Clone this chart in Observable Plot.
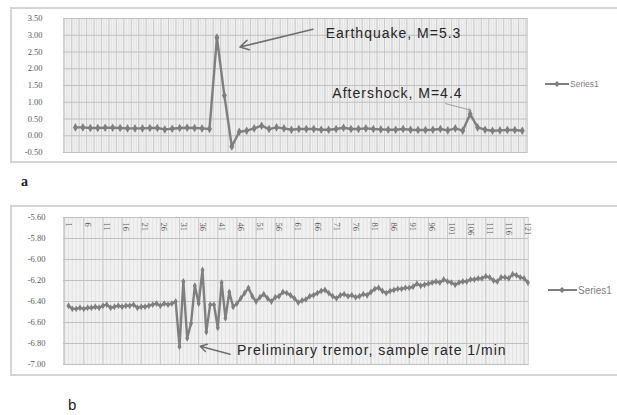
<!DOCTYPE html>
<html>
<head>
<meta charset="utf-8">
<script src="https://cdn.jsdelivr.net/npm/d3@7"></script>
<script src="https://cdn.jsdelivr.net/npm/@observablehq/plot@0.6"></script>
<style>
  body { margin: 0; width: 617px; height: 415px; overflow: hidden; background: #fff; position: relative; font-family: "Liberation Sans", sans-serif; }
  .box { position: absolute; border: 2px solid #d4d4d4; border-right: none; }
  .pane { position: absolute; }
  .legend { position: absolute; display: flex; align-items: center; color: #7f7f7f; white-space: nowrap; }
  .tag { position: absolute; color: #222; }
</style>
</head>
<body>
<div class="box" style="left:10px;top:7px;width:607px;height:152px"></div>
<div class="box" style="left:10px;top:205px;width:607px;height:167px"></div>
<div id="chart_a" class="pane" style="left:10px;top:8px"></div>
<div id="chart_b" class="pane" style="left:10px;top:206px"></div>

<div class="legend" style="left:544px;top:79px;font-size:8.5px">
  <svg width="26" height="10"><line x1="1" y1="5" x2="25" y2="5" stroke="#7f7f7f" stroke-width="2"/><path d="M13 2 L16 5 L13 8 L10 5 Z" fill="#7f7f7f"/></svg>Series1
</div>
<div class="legend" style="left:547px;top:284px;font-size:10px">
  <svg width="31" height="12"><line x1="1" y1="6" x2="30" y2="6" stroke="#7f7f7f" stroke-width="2"/><path d="M15 3 L18 6 L15 9 L12 6 Z" fill="#7f7f7f"/></svg>Series1
</div>
<div class="tag" style="left:21px;top:174px;font:bold 14px 'Liberation Serif', serif">a</div>
<div class="tag" style="left:68px;top:396px;font:15px 'Liberation Sans', sans-serif">b</div>

<script>
// panel a: earthquake record, one point per category
const quakeVals = [
  0.25, 0.25, 0.23, 0.23, 0.24, 0.24, 0.23, 0.22, 0.22, 0.22,
  0.23, 0.23, 0.19, 0.21, 0.23, 0.24, 0.23, 0.22, 0.20, 2.93,
  1.20, -0.32, 0.12, 0.15, 0.22, 0.30, 0.20, 0.25, 0.22, 0.18,
  0.20, 0.20, 0.20, 0.18, 0.18, 0.20, 0.24, 0.20, 0.20, 0.22,
  0.20, 0.19, 0.18, 0.18, 0.20, 0.18, 0.17, 0.17, 0.18, 0.20,
  0.16, 0.22, 0.15, 0.65, 0.25, 0.18, 0.15, 0.16, 0.17, 0.17,
  0.15
];
const quakeTicks = [-0.5, 0, 0.5, 1, 1.5, 2, 2.5, 3, 3.5];
const quakeNotes = ["Earthquake, M=5.3", "Aftershock, M=4.4"];
const quakeNoteX = [33.6, 34.5];
const quakeNoteY = [3.06, 1.26];

// panel b: tilt record, 1 sample / min
const tremorVals = [
  -6.44, -6.47, -6.47, -6.46, -6.47, -6.46, -6.46, -6.45, -6.46, -6.44,
  -6.43, -6.46, -6.45, -6.44, -6.45, -6.44, -6.44, -6.43, -6.46, -6.45,
  -6.45, -6.44, -6.43, -6.42, -6.44, -6.42, -6.43, -6.42, -6.40, -6.83,
  -6.21, -6.75, -6.61, -6.25, -6.42, -6.10, -6.69, -6.43, -6.43, -6.65,
  -6.22, -6.56, -6.31, -6.45, -6.42, -6.37, -6.32, -6.27, -6.35, -6.40,
  -6.36, -6.33, -6.37, -6.40, -6.36, -6.35, -6.31, -6.32, -6.34, -6.37,
  -6.41, -6.39, -6.38, -6.35, -6.34, -6.32, -6.30, -6.29, -6.32, -6.35,
  -6.37, -6.34, -6.33, -6.35, -6.34, -6.36, -6.35, -6.33, -6.34, -6.31,
  -6.28, -6.27, -6.30, -6.32, -6.30, -6.29, -6.28, -6.28, -6.27, -6.27,
  -6.26, -6.23, -6.25, -6.24, -6.23, -6.22, -6.21, -6.22, -6.19, -6.21,
  -6.22, -6.24, -6.22, -6.21, -6.21, -6.19, -6.19, -6.18, -6.18, -6.16,
  -6.17, -6.20, -6.21, -6.17, -6.17, -6.18, -6.14, -6.15, -6.17, -6.18,
  -6.22
];
const tremorTicks = [-7, -6.8, -6.6, -6.4, -6.2, -6, -5.8, -5.6];
const tremorLabels = [1, 6, 11, 16, 21, 26, 31, 36, 41, 46, 51, 56, 61, 66, 71, 76, 81, 86, 91, 96, 101, 106, 111, 116, 121];
const tremorNote = "Preliminary tremor, sample rate 1/min";
const tremorNoteX = 45.0;
const tremorNoteY = -6.866;

const grey = "#7f7f7f";
const tickFont = {fontFamily: "'Liberation Serif', serif", fontSize: "8.5px", color: "#595959", background: "transparent", overflow: "visible"};

// the Excel callouts are set with wide spacing
function spaceNotes(svg, notes) {
  d3.select(svg).selectAll("text")
    .filter(function() { return notes.includes(this.textContent); })
    .style("letter-spacing", "1px");
}

// ---- panel a
const quake = quakeVals.map((v, i) => ({i, v}));

const chartA = Plot.plot({
  width: 523,
  height: 153,
  marginLeft: 53,
  marginRight: 6,
  marginTop: 10,
  marginBottom: 9,
  style: tickFont,
  x: {domain: [-1.6, 60.7], axis: null},
  y: {domain: [-0.5, 3.5], axis: null},
  marks: [
    Plot.frame({fill: "#f1f1f1", stroke: "#d6d6d6"}),
    Plot.ruleX(d3.range(-1.5, 60.7, 1 / 3), {stroke: "#d9d9d9", strokeWidth: 0.6}),
    Plot.ruleX(d3.range(-1.5, 60.7, 1), {stroke: "#c4c4c4", strokeWidth: 0.8}),
    Plot.ruleY(quakeTicks, {stroke: "#c0c0c0", strokeWidth: 1}),
    Plot.axisY({ticks: quakeTicks, tickFormat: d => d.toFixed(2), tickSize: 0, tickPadding: 21, label: null}),
    Plot.line(quake, {x: "i", y: "v", stroke: grey, strokeWidth: 2.4}),
    Plot.dot(quake, {x: "i", y: "v", symbol: "diamond", r: 2.6, fill: grey}),
    Plot.arrow([0], {x1: 31.9, y1: 3.18, x2: 22.1, y2: 2.65, stroke: "#6f6f6f", strokeWidth: 1.6, headLength: 9}),
    Plot.arrow([0], {x1: 49.7, y1: 0.96, x2: 53.1, y2: 0.76, stroke: "#8a8a8a", strokeWidth: 0.8, headLength: 6}),
    Plot.text(quakeNotes, {
      x: (d, k) => quakeNoteX[k], y: (d, k) => quakeNoteY[k], text: d => d,
      textAnchor: "start", lineAnchor: "middle", fontSize: 14,
      fontFamily: "'Liberation Sans', sans-serif", fill: "#262626"
    })
  ]
});
spaceNotes(chartA, quakeNotes);
document.getElementById("chart_a").append(chartA);

// ---- panel b
const tremor = tremorVals.map((v, k) => ({c: k + 1, v}));

const chartB = Plot.plot({
  width: 524,
  height: 167,
  marginLeft: 53,
  marginRight: 6,
  marginTop: 11,
  marginBottom: 9,
  style: tickFont,
  x: {domain: [-0.3, 121.15], axis: null},
  y: {domain: [-7, -5.6], axis: null},
  marks: [
    Plot.frame({fill: "#f1f1f1", stroke: "#d6d6d6"}),
    Plot.ruleX(d3.range(0, 122, 1), {stroke: "#dcdcdc", strokeWidth: 0.7}),
    Plot.ruleX(d3.range(0, 122, 5), {stroke: "#c6c6c6", strokeWidth: 0.9}),
    Plot.ruleY(tremorTicks, {stroke: "#c0c0c0", strokeWidth: 1}),
    Plot.axisY({ticks: tremorTicks, tickFormat: d => d.toFixed(2), tickSize: 0, tickPadding: 18, label: null}),
    Plot.text(tremorLabels, {
      x: d => d, frameAnchor: "top", text: d => String(d), rotate: 90,
      textAnchor: "start", lineAnchor: "middle", dy: 5, fontSize: 8.5, fill: "#595959"
    }),
    Plot.line(tremor, {x: "c", y: "v", stroke: grey, strokeWidth: 2.4}),
    Plot.dot(tremor, {x: "c", y: "v", symbol: "diamond", r: 2.1, fill: grey}),
    Plot.arrow([0], {x1: 43.2, y1: -6.902, x2: 35.4, y2: -6.826, stroke: "#6f6f6f", strokeWidth: 1.4, headLength: 8}),
    Plot.text([tremorNote], {
      x: tremorNoteX, y: tremorNoteY, text: d => d,
      textAnchor: "start", lineAnchor: "middle", fontSize: 14,
      fontFamily: "'Liberation Sans', sans-serif", fill: "#262626"
    })
  ]
});
spaceNotes(chartB, [tremorNote]);
document.getElementById("chart_b").append(chartB);
</script>
</body>
</html>
